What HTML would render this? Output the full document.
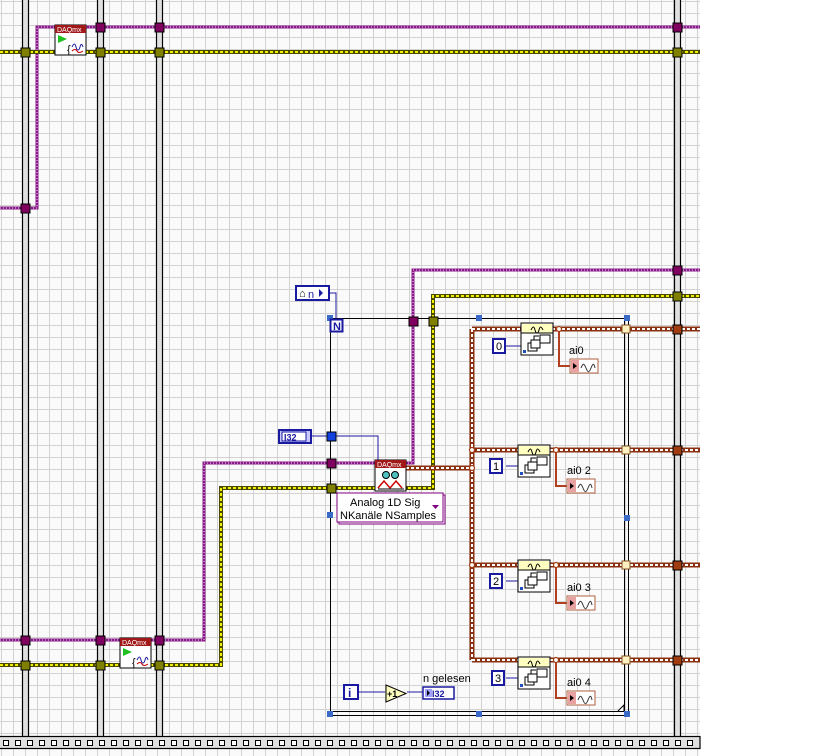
<!DOCTYPE html>
<html><head><meta charset="utf-8"><style>
html,body{margin:0;padding:0;background:#fff;}
svg{display:block;font-family:"Liberation Sans",sans-serif;}
</style></head><body>
<svg width="840" height="756" viewBox="0 0 840 756" xmlns="http://www.w3.org/2000/svg">
<defs>
<pattern id="g" width="12" height="12" patternUnits="userSpaceOnUse" x="2" y="2">
<rect width="12" height="12" fill="#fafafa"/>
<path d="M11.5 0V12M0 11.5H12" stroke="#d2d2d2" stroke-width="1"/>
</pattern>
<g id="wfi"><rect x="0" y="0" width="28" height="14" fill="#fff" stroke="#b06040"/><rect x="1" y="1" width="8" height="12" fill="#e8a0a0"/><path d="M3 4l4 3l-4 3z" fill="#000"/><path d="M11 9c2-5 3-5 5 0s3 5 5 0s3-5 4 0" stroke="#333" fill="none" stroke-width="1"/></g>
<g id="idx"><rect x="0" y="0" width="32" height="32" fill="#fff" stroke="#000"/><rect x="1" y="1" width="30" height="9" fill="#ffffc0"/><line x1="0" y1="10" x2="32" y2="10" stroke="#000"/><path d="M10 7c2-4 3-4 4 0s3 4 4 0s2-4 4 0" stroke="#000" fill="none"/><rect x="7" y="20" width="9" height="8" fill="#fff" stroke="#000"/><rect x="10" y="17" width="9" height="8" fill="#fff" stroke="#000"/><rect x="19" y="12" width="10" height="8" fill="#fff" stroke="#000"/><path d="M13 17v-4h5" stroke="#000" fill="none"/><rect x="2" y="27" width="3" height="3" fill="#2050c0"/></g>
</defs>
<rect x="0" y="0" width="700" height="756" fill="url(#g)"/>

<g fill="#e0e0e0" stroke="#000" stroke-width="1.2">
<rect x="22.5" y="-2" width="6" height="741"/>
<rect x="97.5" y="-2" width="6" height="741"/>
<rect x="156.5" y="-2" width="6" height="741"/>
<rect x="674.5" y="-2" width="6" height="741"/>
</g>
<rect x="-1" y="736.5" width="701" height="12" fill="#e0e0e0" stroke="#000" stroke-width="1.2"/>
<g fill="#fff" stroke="#000">
<rect x="3.5" y="740.5" width="5" height="5"/><rect x="15.5" y="740.5" width="5" height="5"/><rect x="27.5" y="740.5" width="5" height="5"/><rect x="39.5" y="740.5" width="5" height="5"/><rect x="51.5" y="740.5" width="5" height="5"/><rect x="63.5" y="740.5" width="5" height="5"/><rect x="75.5" y="740.5" width="5" height="5"/><rect x="87.5" y="740.5" width="5" height="5"/><rect x="99.5" y="740.5" width="5" height="5"/><rect x="111.5" y="740.5" width="5" height="5"/><rect x="123.5" y="740.5" width="5" height="5"/><rect x="135.5" y="740.5" width="5" height="5"/><rect x="147.5" y="740.5" width="5" height="5"/><rect x="159.5" y="740.5" width="5" height="5"/><rect x="171.5" y="740.5" width="5" height="5"/><rect x="183.5" y="740.5" width="5" height="5"/><rect x="195.5" y="740.5" width="5" height="5"/><rect x="207.5" y="740.5" width="5" height="5"/><rect x="219.5" y="740.5" width="5" height="5"/><rect x="231.5" y="740.5" width="5" height="5"/><rect x="243.5" y="740.5" width="5" height="5"/><rect x="255.5" y="740.5" width="5" height="5"/><rect x="267.5" y="740.5" width="5" height="5"/><rect x="279.5" y="740.5" width="5" height="5"/><rect x="291.5" y="740.5" width="5" height="5"/><rect x="303.5" y="740.5" width="5" height="5"/><rect x="315.5" y="740.5" width="5" height="5"/><rect x="327.5" y="740.5" width="5" height="5"/><rect x="339.5" y="740.5" width="5" height="5"/><rect x="351.5" y="740.5" width="5" height="5"/><rect x="363.5" y="740.5" width="5" height="5"/><rect x="375.5" y="740.5" width="5" height="5"/><rect x="387.5" y="740.5" width="5" height="5"/><rect x="399.5" y="740.5" width="5" height="5"/><rect x="411.5" y="740.5" width="5" height="5"/><rect x="423.5" y="740.5" width="5" height="5"/><rect x="435.5" y="740.5" width="5" height="5"/><rect x="447.5" y="740.5" width="5" height="5"/><rect x="459.5" y="740.5" width="5" height="5"/><rect x="471.5" y="740.5" width="5" height="5"/><rect x="483.5" y="740.5" width="5" height="5"/><rect x="495.5" y="740.5" width="5" height="5"/><rect x="507.5" y="740.5" width="5" height="5"/><rect x="519.5" y="740.5" width="5" height="5"/><rect x="531.5" y="740.5" width="5" height="5"/><rect x="543.5" y="740.5" width="5" height="5"/><rect x="555.5" y="740.5" width="5" height="5"/><rect x="567.5" y="740.5" width="5" height="5"/><rect x="579.5" y="740.5" width="5" height="5"/><rect x="591.5" y="740.5" width="5" height="5"/><rect x="603.5" y="740.5" width="5" height="5"/><rect x="615.5" y="740.5" width="5" height="5"/><rect x="627.5" y="740.5" width="5" height="5"/><rect x="639.5" y="740.5" width="5" height="5"/><rect x="651.5" y="740.5" width="5" height="5"/><rect x="663.5" y="740.5" width="5" height="5"/><rect x="675.5" y="740.5" width="5" height="5"/><rect x="687.5" y="740.5" width="5" height="5"/>
</g>

<g fill="none" stroke-linejoin="miter">
<g stroke="#8a1a8a" stroke-width="3">
<path d="M0 208H37V27H700"/>
<path d="M0 640H204V463H413V270H700"/>
</g>
<g stroke="#f0d8f0" stroke-width="1" stroke-dasharray="1 2">
<path d="M0 208H37V27H700"/>
<path d="M0 640H204V463H413V270H700"/>
</g>
<g stroke="#4a4a00" stroke-width="4">
<path d="M0 52H700"/>
<path d="M0 665H221V488H433V296H700"/>
</g>
<g stroke="#f0f000" stroke-width="2" stroke-dasharray="3 2">
<path d="M0 52H700"/>
<path d="M0 665H221V488H433V296H700"/>
</g>
<g stroke="#1a1aa0" stroke-width="1">
<path d="M330 293H336V318"/>
<path d="M312 436H378V460"/>
<path d="M506 346H521"/><path d="M506 466H518"/><path d="M506 581H518"/><path d="M506 678H518"/>
<path d="M358 692H385"/><path d="M407 692H423"/>
</g>
<g stroke="#8a3010" stroke-width="5">
<path d="M406 468H472"/>
<path d="M472 329V660"/>
<path d="M472 329H521M552 329H700"/>
<path d="M472 450H518M550 450H700"/>
<path d="M472 565H518M550 565H700"/>
<path d="M472 660H518M550 660H700"/>
</g>
<g stroke="#fff" stroke-width="2" stroke-dasharray="3 2">
<path d="M406 468H472"/>
<path d="M472 329V660"/>
<path d="M472 329H521M552 329H700"/>
<path d="M472 450H518M550 450H700"/>
<path d="M472 565H518M550 565H700"/>
<path d="M472 660H518M550 660H700"/>
</g>
<g stroke="#b04020" stroke-width="2">
<path d="M559 329V366H570"/><path d="M556 450V486H567"/><path d="M556 565V603H567"/><path d="M556 660V698H567"/>
</g>
</g>

<g fill="none" stroke="#000">
<path d="M330.5 714V318.5H627"/>
<path d="M330 711.5H625M330 715.5H629"/>
<path d="M624.5 318V712M628.5 318V716"/>
<path d="M618 711l6-6v6" fill="#fff"/>
</g>
<g fill="#3a6ac8">
<rect x="327" y="315" width="6" height="6"/><rect x="327" y="512" width="6" height="6"/><rect x="327" y="711" width="6" height="6"/>
<rect x="476" y="711" width="6" height="6"/><rect x="624" y="711" width="6" height="6"/>
<rect x="624" y="515" width="6" height="6"/><rect x="476" y="315" width="6" height="6"/><rect x="624" y="315" width="6" height="6"/>
</g>
<rect x="330.5" y="319.5" width="12" height="12" fill="#fff" stroke="#1a1aa0" stroke-width="2"/>
<text x="333" y="330" font-size="11" font-weight="bold" fill="#1a1aa0">N</text>
<rect x="296" y="286" width="33" height="14" fill="#fff" stroke="#1a1aa0" stroke-width="2"/>
<text x="299" y="297" font-size="11" font-weight="bold" fill="#000">⌂</text>
<text x="308" y="298" font-size="11" fill="#1a1aa0">n</text>
<path d="M319 289l4 4l-4 4z" fill="#1a1aa0"/>
<rect x="279" y="430" width="32" height="13" fill="#c8c8ff" stroke="#1a1aa0" stroke-width="2"/>
<rect x="282" y="432" width="24" height="9" fill="#fff" stroke="#1a1aa0"/>
<text x="284" y="440.5" font-size="9" font-weight="bold" fill="#1a1aa0">I32</text>

<g stroke="#000" stroke-width="1">
<g fill="#800060">
<rect x="21" y="204" width="9" height="9"/><rect x="96" y="23" width="9" height="9"/><rect x="155" y="23" width="9" height="9"/><rect x="673" y="23" width="9" height="9"/>
<rect x="21" y="636" width="9" height="9"/><rect x="96" y="636" width="9" height="9"/><rect x="155" y="636" width="9" height="9"/><rect x="673" y="266" width="9" height="9"/>
<rect x="327" y="459" width="9" height="9"/><rect x="409" y="317" width="9" height="9"/>
</g>
<g fill="#808000">
<rect x="21" y="48" width="9" height="9"/><rect x="96" y="48" width="9" height="9"/><rect x="155" y="48" width="9" height="9"/><rect x="673" y="48" width="9" height="9"/>
<rect x="21" y="661" width="9" height="9"/><rect x="96" y="661" width="9" height="9"/><rect x="155" y="661" width="9" height="9"/><rect x="673" y="292" width="9" height="9"/>
<rect x="327" y="484" width="9" height="9"/><rect x="429" y="317" width="9" height="9"/>
</g>
<g fill="#a03c10">
<rect x="673" y="325" width="9" height="9"/><rect x="673" y="446" width="9" height="9"/><rect x="673" y="561" width="9" height="9"/><rect x="673" y="656" width="9" height="9"/>
</g>
<rect x="327" y="432" width="9" height="9" fill="#1040e0"/>
<g fill="#fff0c0" stroke="#805020">
<rect x="622" y="325" width="8" height="8"/><rect x="622" y="446" width="8" height="8"/><rect x="622" y="561" width="8" height="8"/><rect x="622" y="656" width="8" height="8"/>
</g>
</g>
<g fill="#fff" stroke="#a03c10" stroke-width="1.2">
<circle cx="472" cy="450" r="2.5"/><circle cx="472" cy="468" r="2.5"/><circle cx="472" cy="565" r="2.5"/><circle cx="559" cy="329" r="2.5"/><circle cx="556" cy="450" r="2.5"/><circle cx="556" cy="565" r="2.5"/><circle cx="556" cy="660" r="2.5"/>
</g>

<g transform="translate(55,25)">
<rect x="0" y="0" width="31" height="30" fill="#fff" stroke="#000"/><rect x="0" y="0" width="31" height="8" fill="#a01818"/>
<text x="2" y="7" font-size="7" fill="#fff">DAQmx</text>
<path d="M3 10l9 4l-9 4z" fill="#20c020"/>
<text x="12" y="28" font-size="11" fill="#000">{</text><path d="M17 22c2-4 3-4 4 0s3 4 4 0s2-3 3 0" stroke="#1a1aa0" fill="none"/><path d="M17 26c2-2 4-2 5 0s3 2 6 0" stroke="#c00" fill="none"/>
</g>
<g transform="translate(120,638)">
<rect x="0" y="0" width="31" height="30" fill="#fff" stroke="#000"/><rect x="0" y="0" width="31" height="8" fill="#a01818"/>
<text x="2" y="7" font-size="7" fill="#fff">DAQmx</text>
<path d="M3 10l9 4l-9 4z" fill="#20c020"/>
<text x="12" y="28" font-size="11" fill="#000">{</text><path d="M17 22c2-4 3-4 4 0s3 4 4 0s2-3 3 0" stroke="#1a1aa0" fill="none"/><path d="M17 26c2-2 4-2 5 0s3 2 6 0" stroke="#c00" fill="none"/>
</g>
<g transform="translate(375,460)">
<rect x="0" y="0" width="31" height="31" fill="#fff" stroke="#000"/><rect x="0" y="0" width="31" height="8" fill="#a01818"/>
<text x="2" y="7" font-size="7" fill="#fff">DAQmx</text>
<circle cx="11" cy="15" r="3.5" fill="#50c0c0" stroke="#000"/><circle cx="20" cy="15" r="3.5" fill="#50c0c0" stroke="#000"/>
<path d="M3 28l6-7l6 7l6-7l6 7" stroke="#c00" fill="none" stroke-width="1.5"/><path d="M3 29H29" stroke="#000"/>
</g>
<rect x="339" y="495" width="106" height="29" fill="#fff" stroke="#800080"/>
<rect x="337" y="493" width="106" height="29" fill="#fff" stroke="#800080"/>
<text x="350" y="506" font-size="11" fill="#000">Analog 1D Sig</text>
<text x="340" y="519" font-size="11" fill="#000">NKanäle NSamples</text>
<path d="M432 505h7l-3.5 4z" fill="#800080"/>

<use href="#idx" x="521" y="323"/>
<use href="#idx" x="518" y="445"/>
<use href="#idx" x="518" y="560"/>
<use href="#idx" x="518" y="657"/>
<g fill="#fff" stroke="#1a1aa0" stroke-width="2" font-size="11">
<rect x="493" y="339" width="12" height="14"/><rect x="490" y="459" width="12" height="14"/><rect x="490" y="574" width="12" height="14"/><rect x="492" y="671" width="12" height="14"/>
</g>
<g font-size="11" fill="#000">
<text x="496" y="350">0</text><text x="493" y="470">1</text><text x="493" y="585">2</text><text x="495" y="682">3</text>
<text x="569" y="354">ai0</text><text x="567" y="474">ai0 2</text><text x="567" y="591">ai0 3</text><text x="567" y="686">ai0 4</text>
<text x="423" y="682">n gelesen</text>
</g>
<use href="#wfi" x="570" y="359"/>
<use href="#wfi" x="567" y="479"/>
<use href="#wfi" x="567" y="596"/>
<use href="#wfi" x="567" y="691"/>

<rect x="344" y="685" width="14" height="14" fill="#fff" stroke="#1a1aa0" stroke-width="2"/>
<text x="348" y="697" font-size="12" font-weight="bold" fill="#1a1aa0">i</text>
<path d="M386 685v17l20-8.5z" fill="#ffffc0" stroke="#000"/>
<text x="387" y="697" font-size="9" font-weight="bold">+1</text>
<rect x="423" y="687" width="31" height="12" fill="#fff" stroke="#1a1aa0" stroke-width="1.5"/>
<rect x="425" y="689" width="7" height="8" fill="#a0a0ff"/>
<path d="M427 690l3 3l-3 3z" fill="#000"/>
<text x="432" y="697" font-size="9" font-weight="bold" fill="#1a1aa0">I32</text>
</svg>
</body></html>
